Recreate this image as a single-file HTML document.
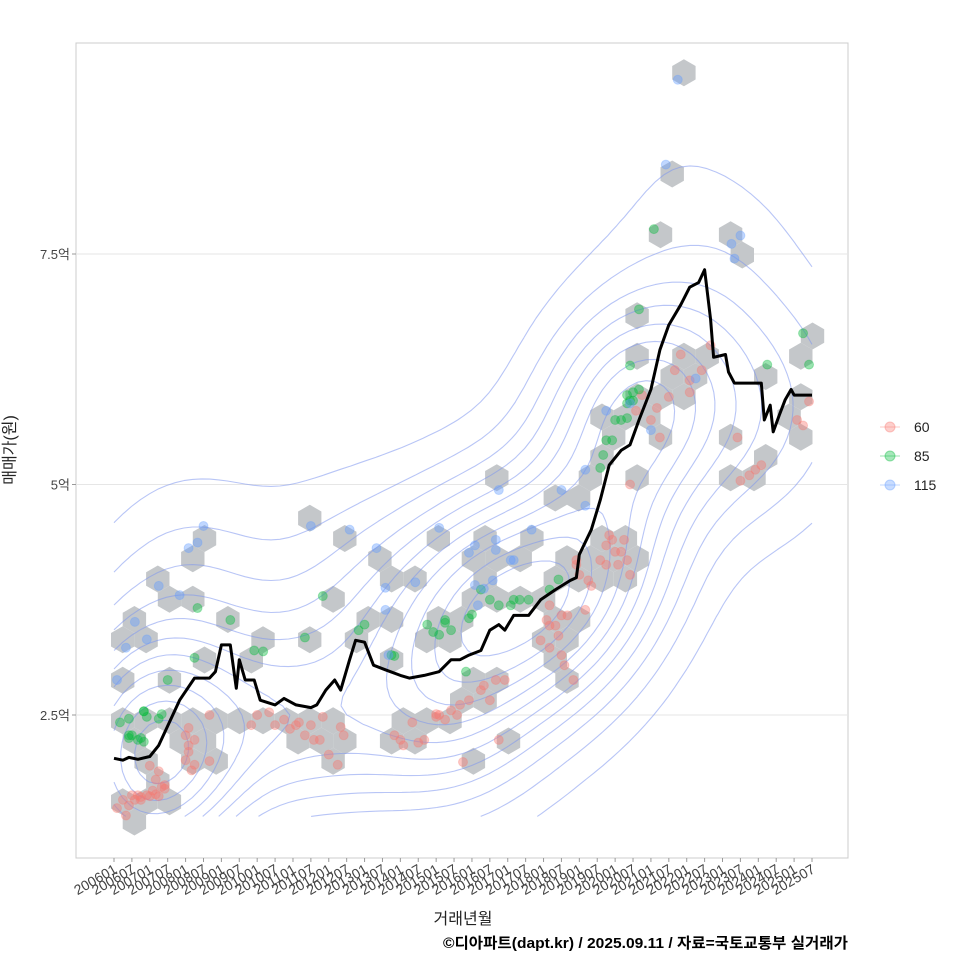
<!DOCTYPE html>
<html><head><meta charset="utf-8"><style>
body{margin:0;background:#fff;}
svg{display:block;font-family:"Liberation Sans","Noto Sans CJK KR",sans-serif;}
</style></head><body>
<svg id="chart" width="960" height="960" viewBox="0 0 960 960">
<rect x="0" y="0" width="960" height="960" fill="#fff"/>
<rect x="76" y="43" width="772" height="815" fill="#fff" stroke="#cccccc" stroke-width="1"/>
<g id="grid"></g>
<g id="hexes"></g>
<g id="contours"></g>
<g id="points"></g>
<g id="line"></g>
<g id="yaxis"></g>
<g id="xaxis"></g>
<text x="15" y="450" transform="rotate(-90 15 450)" text-anchor="middle" font-size="16" fill="#222">매매가(원)</text>
<text x="463" y="924" text-anchor="middle" font-size="16" fill="#222">거래년월</text>
<text x="443" y="948" textLength="405" lengthAdjust="spacingAndGlyphs" font-size="15" font-weight="bold" fill="#000">©디아파트(dapt.kr) / 2025.09.11 / 자료=국토교통부 실거래가</text>
<g>
<g><line x1="880" y1="427" x2="900" y2="427" stroke="#F8766D" stroke-opacity="0.4"/><circle cx="890" cy="427" r="5" fill="#F8766D" fill-opacity="0.35" stroke="#F8766D" stroke-opacity="0.4"/><text x="914" y="432" font-size="14" fill="#222">60</text></g>
<g><line x1="880" y1="456" x2="900" y2="456" stroke="#00BA38" stroke-opacity="0.4"/><circle cx="890" cy="456" r="5" fill="#00BA38" fill-opacity="0.35" stroke="#00BA38" stroke-opacity="0.4"/><text x="914" y="461" font-size="14" fill="#222">85</text></g>
<g><line x1="880" y1="485" x2="900" y2="485" stroke="#619CFF" stroke-opacity="0.4"/><circle cx="890" cy="485" r="5" fill="#619CFF" fill-opacity="0.35" stroke="#619CFF" stroke-opacity="0.4"/><text x="914" y="490" font-size="14" fill="#222">115</text></g>
</g>
</svg>
<script>
// ---- data ----
const yTicks = [2.5, 5, 7.5];
const yTickLabels = ["2.5억", "5억", "7.5억"];
const xTickLabels = ["200601","200607","200701","200707","200801","200807","200901","200907","201001","201007","201101","201107","201201","201207","201301","201307","201401","201407","201501","201507","201601","201607","201701","201707","201801","201807","201901","201907","202001","202007","202101","202107","202201","202207","202301","202307","202401","202407","202501","202507"];
// median line: months since 2006-01, price (억)
const lineMonths = [0,3,5,8,12,15,22,27,32,34,36,39,41,42,44,47,49,54,57,61,66,68,71,74,76,79,81,84,87,91,96,99,104,109,113,116,119,123,126,129,131,134,139,143,148,153,155,156,160,163,166,170,173,176,180,183,186,190,193,196,198,200,201,205,206,208,217,218,220,221,223,225,227,228,234];
const lineValues = [2.03,2.01,2.04,2.02,2.05,2.17,2.66,2.90,2.90,2.97,3.26,3.26,2.79,3.10,2.88,2.88,2.66,2.61,2.68,2.61,2.58,2.61,2.77,2.88,2.77,3.10,3.31,3.29,3.04,2.99,2.93,2.90,2.93,2.97,3.10,3.10,3.15,3.20,3.42,3.48,3.42,3.58,3.58,3.75,3.86,3.96,3.99,4.24,4.51,4.83,5.21,5.37,5.43,5.70,6.03,6.46,6.73,6.95,7.14,7.19,7.33,6.79,6.38,6.41,6.22,6.10,6.10,5.70,5.86,5.57,5.75,5.92,6.03,5.97,5.97];
// scatter points: month, price, type
const pt60M = [1,3,4,5,6,7,8,9,11,12,13,14,15,16,17,14,17,15,12,9,24,25,25,27,24,25,32,32,27,26,48,52,54,57,59,61,62,64,66,67,69,70,76,77,75,72,46,94,96,97,100,102,104,108,109,111,113,115,108,116,119,117,123,124,128,131,129,126,143,145,146,146,148,150,150,149,151,146,152,154,155,155,156,158,159,160,165,166,167,168,171,172,173,169,165,163,170,173,175,177,180,182,183,186,188,193,190,197,200,193,209,210,213,215,217,229,231,233];
const pt60P = [1.49,1.58,1.41,1.52,1.63,1.58,1.63,1.61,1.63,1.62,1.68,1.64,1.62,1.72,1.70,1.80,1.74,1.89,1.95,1.58,2.01,2.10,2.17,2.23,2.28,2.36,2.00,2.50,1.96,1.90,2.50,2.53,2.39,2.45,2.35,2.39,2.42,2.28,2.39,2.23,2.23,2.48,2.37,2.28,1.96,2.07,2.39,2.28,2.23,2.17,2.42,2.20,2.23,2.48,2.50,2.45,2.55,2.50,2.51,2.61,2.66,1.99,2.77,2.82,2.88,2.88,2.23,2.66,3.31,3.53,3.47,3.23,3.47,3.58,3.15,3.36,3.04,3.69,3.58,2.88,4.13,4.18,4.02,3.64,3.96,3.90,4.34,4.45,4.40,4.27,4.40,4.18,4.02,4.13,4.13,4.18,4.27,5.00,5.80,5.97,5.70,5.83,5.51,5.95,6.24,6.13,6.41,6.24,6.51,6.00,5.51,5.04,5.10,5.16,5.21,5.70,5.64,5.90];
const pt85M = [2,5,5,6,8,9,10,10,11,15,5,10,16,18,27,28,39,47,50,64,70,82,84,93,94,105,107,109,111,113,111,119,120,123,126,129,133,134,136,139,146,149,163,164,165,167,168,170,172,173,174,172,176,174,173,176,181,233,219,231,172,118];
const pt85P = [2.42,2.46,2.25,2.28,2.23,2.25,2.21,2.54,2.48,2.46,2.28,2.54,2.51,2.88,3.12,3.66,3.53,3.20,3.19,3.34,3.79,3.42,3.48,3.15,3.14,3.48,3.40,3.37,3.53,3.42,3.50,3.55,3.59,3.86,3.75,3.69,3.69,3.75,3.75,3.75,3.86,3.97,5.18,5.32,5.48,5.48,5.70,5.70,5.88,5.91,6.00,5.97,6.03,5.91,6.29,6.90,7.77,6.30,6.30,6.64,5.72,2.97];
const pt115M = [1,4,7,11,15,22,25,28,30,66,79,88,91,91,92,101,109,119,121,121,124,127,128,128,134,140,150,158,165,173,180,189,185,207,208,210,195,158,133,122,129];
const pt115P = [2.88,3.23,3.51,3.32,3.90,3.80,4.31,4.37,4.55,4.55,4.51,4.31,3.88,3.64,3.15,3.94,4.53,4.26,4.34,3.91,3.87,3.96,4.40,4.29,4.18,4.51,4.94,4.77,5.80,5.88,5.59,9.39,8.47,7.61,7.45,7.70,6.15,5.16,4.18,3.69,4.94];

// ---- scales ----
const X0 = 114, X1 = 812, NM = 234;
function xs(m){ return X0 + m*(X1-X0)/NM; }
function ys(v){ return 945.5 - 92.2*v; }
const NS = "http://www.w3.org/2000/svg";
function mk(tag, attrs, parent){ const e = document.createElementNS(NS, tag); for (const k in attrs) e.setAttribute(k, attrs[k]); parent.appendChild(e); return e; }

const grid = document.getElementById('grid'), yaxis = document.getElementById('yaxis');
yTicks.forEach((v,i)=>{
  const gl = mk('line',{x1:76,x2:848,y1:ys(v),y2:ys(v),stroke:'#e6e6e6','stroke-width':1},grid);
  
  
  const tk = mk('line',{x1:72,x2:76,y1:ys(v),y2:ys(v),stroke:'#999'},yaxis);
  
  
  const t = mk('text',{x:70,y:ys(v)+5,'text-anchor':'end','font-size':13,fill:'#444'},yaxis);
  t.textContent = yTickLabels[i];
  
  
});
const xaxis = document.getElementById('xaxis');
xTickLabels.forEach((lab,i)=>{
  const x = xs(i*6);
  const tk = mk('line',{x1:x,x2:x,y1:858,y2:862,stroke:'#999'},xaxis);
  
  
  const t = mk('text',{x:x+4,y:872,'text-anchor':'end','font-size':14,fill:'#444',transform:`rotate(-30 ${x+4} 872)`},xaxis);
  t.textContent = lab;
  
  
});

const all = [];
pt60M.forEach((m,i)=>all.push([m,pt60P[i],'#F8766D']));
pt85M.forEach((m,i)=>all.push([m,pt85P[i],'#00BA38']));
pt115M.forEach((m,i)=>all.push([m,pt115P[i],'#619CFF']));

const R = 13.5, HW = Math.sqrt(3)*R, RH = 1.5*R, OX = 111, OY = 822;
const hexSet = new Map();
all.forEach(p=>{
  const px = xs(p[0]), py = ys(p[1]);
  let best=null, bd=1e9;
  const r0 = Math.round((py-OY)/RH);
  for (let r=r0-1;r<=r0+1;r++){
    const off = (Math.abs(r)%2)*HW/2;
    const c0 = Math.round((px-OX-off)/HW);
    for (let c=c0-1;c<=c0+1;c++){
      const cx = OX+off+c*HW, cy = OY+r*RH, d=(cx-px)**2+(cy-py)**2;
      if (d<bd){bd=d;best=[cx,cy];}
    }
  }
  hexSet.set(best[0].toFixed(1)+','+best[1].toFixed(1),best);
});
const hexG = document.getElementById('hexes');
hexSet.forEach(c=>{
  let pts=[];
  for(let k=0;k<6;k++){const a=Math.PI/3*k+Math.PI/6; pts.push((c[0]+R*Math.cos(a)).toFixed(1)+','+(c[1]+R*Math.sin(a)).toFixed(1));}
  const h = mk('polygon',{points:pts.join(' '),fill:'#c4c7ca'},hexG);
  
  
});

(function(){
  const mMin=0,mMax=234,pMin=1.4,pMax=9.4, NX=80, NY=80, sx=20, sy=0.75;
  const Z=[]; let zmax=0;
  for(let j=0;j<=NY;j++){Z.push([]);const p=pMin+(pMax-pMin)*j/NY;
    for(let i=0;i<=NX;i++){const m=mMin+(mMax-mMin)*i/NX; let s=0;
      all.forEach(q=>{const dx=(q[0]-m)/sx, dy=(q[1]-p)/sy; s+=Math.exp(-0.5*(dx*dx+dy*dy));});
      Z[j].push(s); if(s>zmax)zmax=s;}}
  const gx=i=>xs(mMin+(mMax-mMin)*i/NX), gy=j=>ys(pMin+(pMax-pMin)*j/NY);
  let d='';
  const levels=[]; for(let k=1;k<=11;k++) levels.push(zmax*k/12);
  levels.forEach(L=>{
    for(let j=0;j<NY;j++)for(let i=0;i<NX;i++){
      const a=Z[j][i],b=Z[j][i+1],c=Z[j+1][i+1],e=Z[j+1][i];
      const pts=[];
      const edge=(v1,v2,x1,y1,x2,y2)=>{if((v1<L)!==(v2<L)){const t=(L-v1)/(v2-v1);pts.push([x1+(x2-x1)*t,y1+(y2-y1)*t]);}};
      edge(a,b,gx(i),gy(j),gx(i+1),gy(j));
      edge(b,c,gx(i+1),gy(j),gx(i+1),gy(j+1));
      edge(c,e,gx(i+1),gy(j+1),gx(i),gy(j+1));
      edge(e,a,gx(i),gy(j+1),gx(i),gy(j));
      for(let k=0;k+1<pts.length;k+=2) d+=`M${pts[k][0].toFixed(1)},${pts[k][1].toFixed(1)}L${pts[k+1][0].toFixed(1)},${pts[k+1][1].toFixed(1)}`;
    }
  });
  const p = mk('path',{d:d,fill:'none',stroke:'#7d95ee','stroke-opacity':0.55,'stroke-width':1.1},document.getElementById('contours'));
  
  
})();

const ptG = document.getElementById('points');
all.forEach(p=>{
  const c = mk('circle',{cx:xs(p[0]),cy:ys(p[1]),r:4.5,fill:p[2],'fill-opacity':0.4,stroke:p[2],'stroke-opacity':0.3},ptG);
  
  
});

let ld='';
lineMonths.forEach((m,i)=>{ ld += (i?'L':'M')+xs(m).toFixed(1)+','+ys(lineValues[i]).toFixed(1); });
const ln = mk('path',{d:ld,fill:'none',stroke:'#000','stroke-width':3,'stroke-linejoin':'round'},document.getElementById('line'));


</script>
</body></html>
